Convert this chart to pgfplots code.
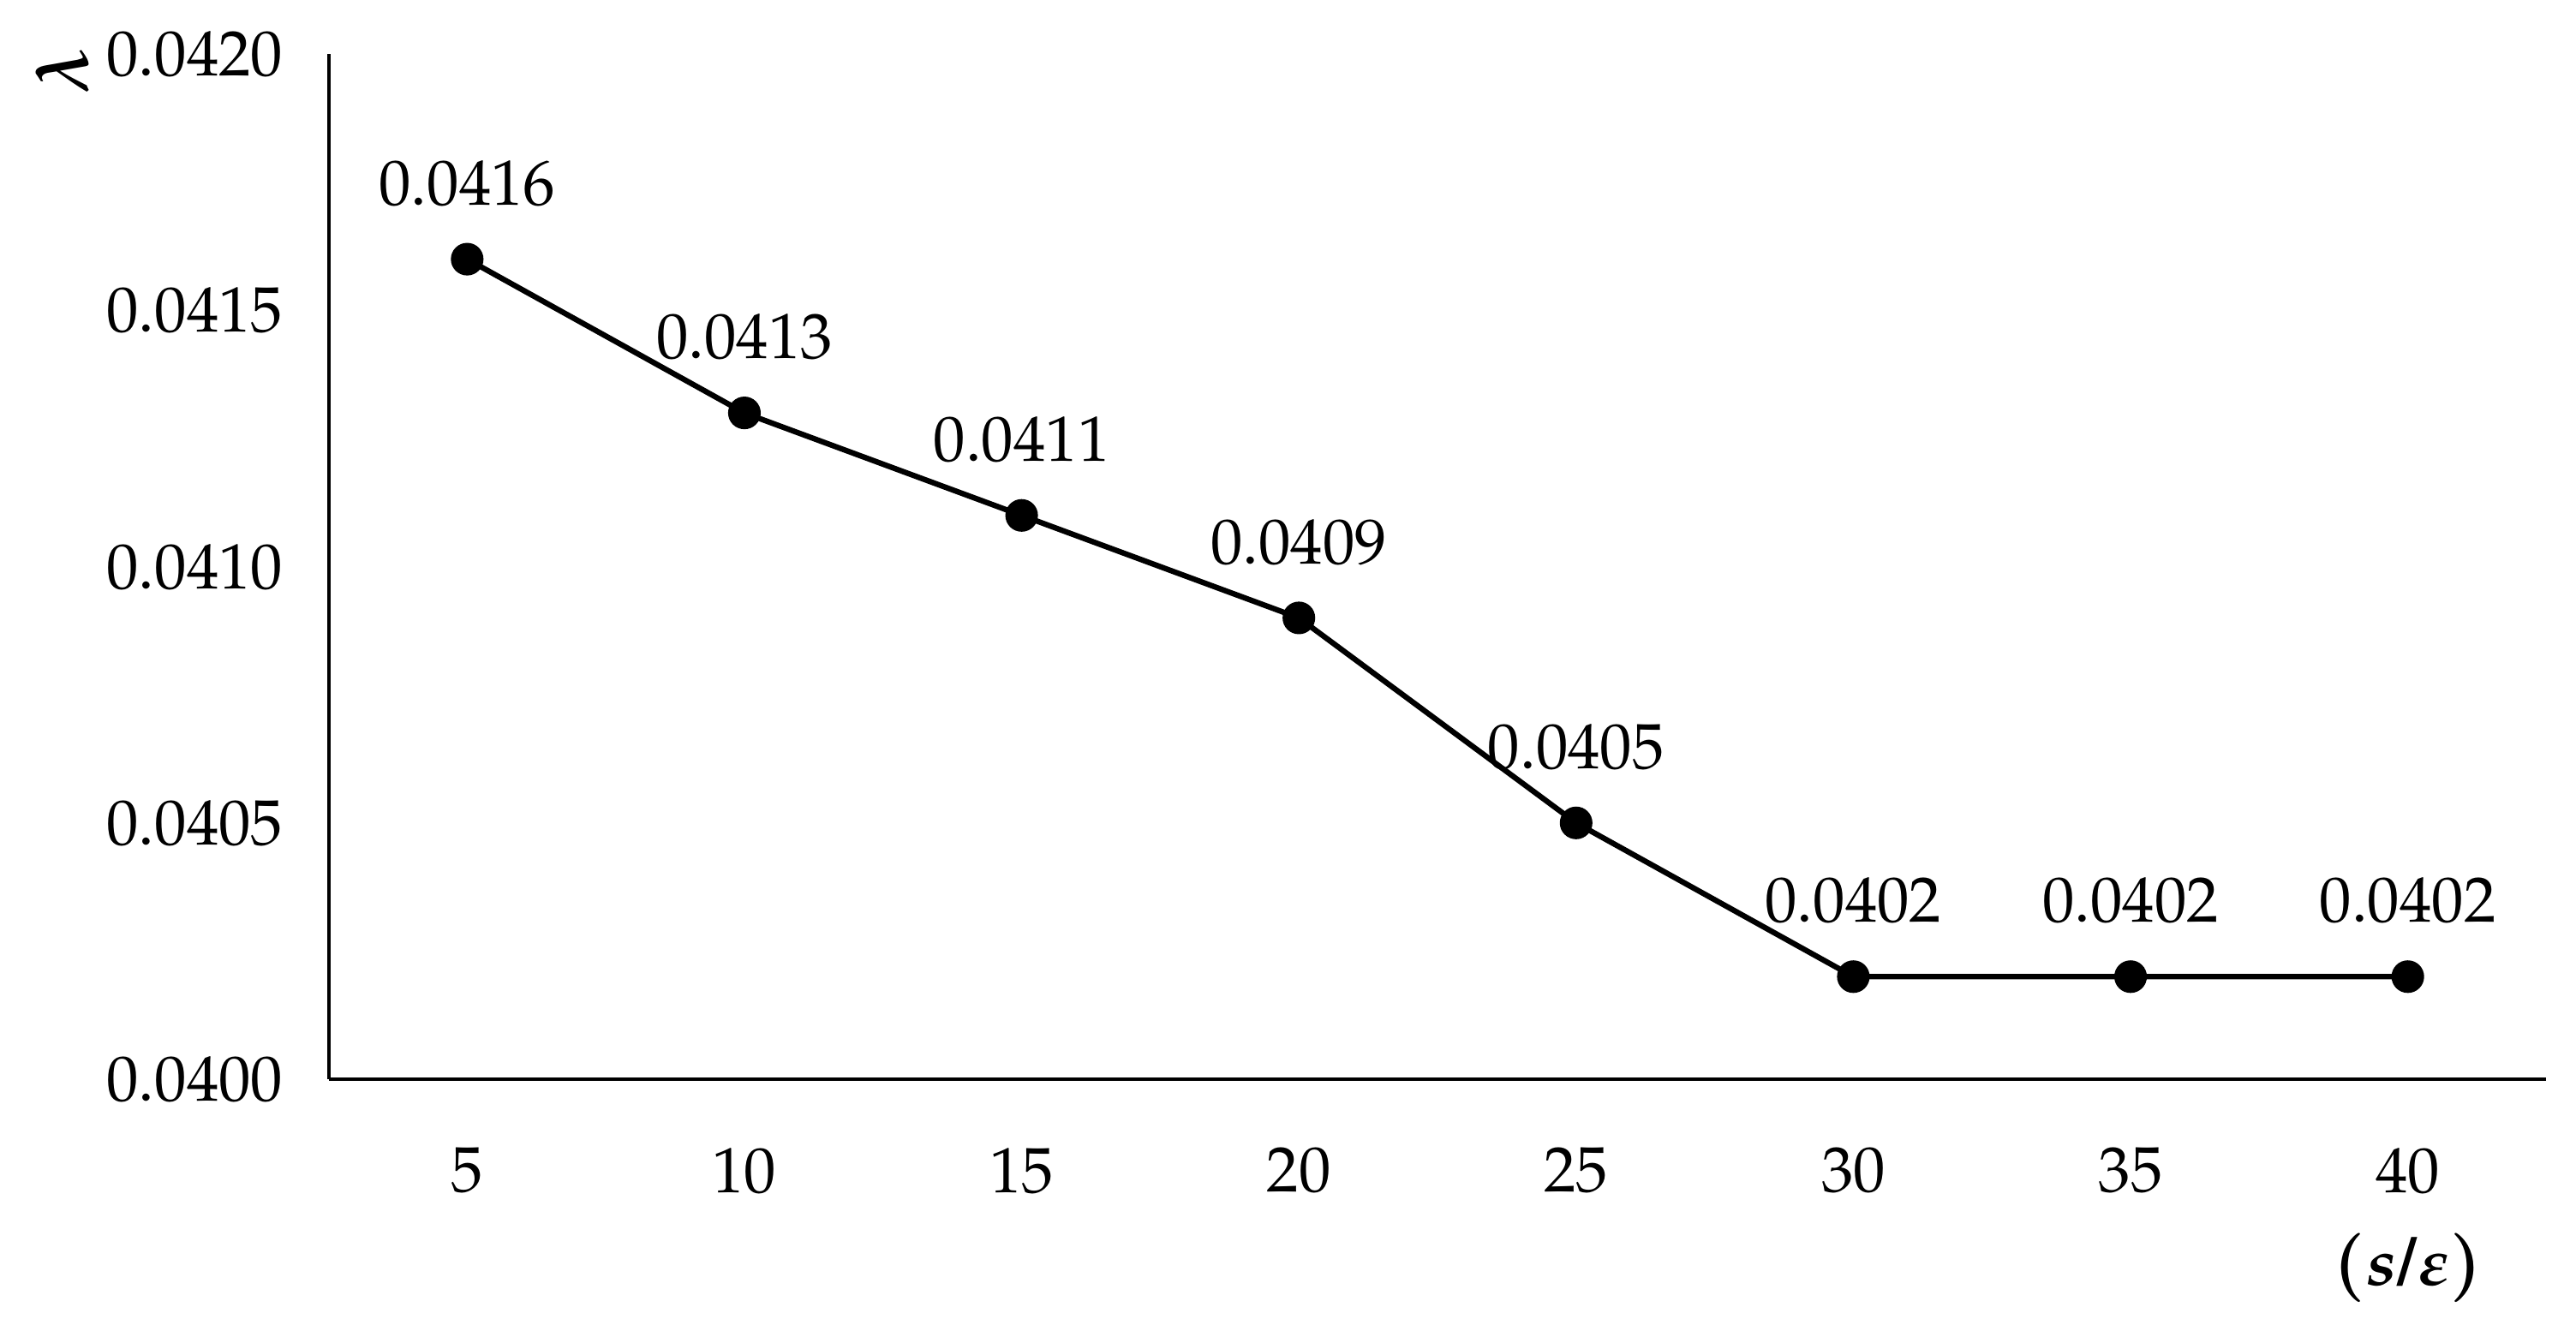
\documentclass[border=0pt]{standalone}
\usepackage[T1]{fontenc}
\usepackage{mathpazo}
\usepackage{amsmath}
\usepackage{pgfplots}
\pgfplotsset{compat=1.18}

\begin{document}
\fontsize{11.1}{13}\selectfont
\begin{tikzpicture}
  \path[use as bounding box] (-2.00,-1.46) rectangle (13.68,6.57);
  \begin{axis}[
      at={(0,0)}, anchor=south west,
      scale only axis, width=13.5cm, height=6.24cm,
      xmin=2.5, xmax=42.5, ymin=0.0400, ymax=0.0420,
      axis lines*=left,
      axis line style={line width=0.6pt},
      major tick length=0pt,
      xtick={5,10,...,40},
      ytick={0.0400,0.0405,0.0410,0.0415,0.0420},
      scaled y ticks=false,
      tick label style={font=\fontsize{11.1}{13}\selectfont},
      yticklabel style={/pgf/number format/.cd, fixed, fixed zerofill, precision=4, /tikz/.cd, xshift=-4pt},
      xticklabel style={yshift=-8pt},
      ylabel={$\boldsymbol{\lambda}$},
      % the label is turned by 90 degrees, so its shifts are turned too
      ylabel style={at={(axis description cs:0,1)}, anchor=center, rotate=0, yshift=1.62cm, xshift=-0.1cm, font=\fontsize{12.5}{14}\selectfont},
      xlabel={$\boldsymbol{(s/\varepsilon)}$},
      xlabel style={at={(axis cs:40,0.0400)}, anchor=center, yshift=-1.15cm, font=\fontsize{11.5}{14}\selectfont},
      nodes near coords={\pgfmathprintnumber[fixed, fixed zerofill, precision=4]{\pgfplotspointmeta}},
      nodes near coords style={anchor=base, yshift=0.33cm, font=\fontsize{11.1}{13}\selectfont},
      point meta=y,
      clip=false,
    ]
    \addplot[black, line width=0.95pt, mark=*, mark size=2.35pt] coordinates {
      (5,0.0416) (10,0.0413) (15,0.0411) (20,0.0409)
      (25,0.0405) (30,0.0402) (35,0.0402) (40,0.0402)
    };
  \end{axis}
\end{tikzpicture}
\end{document}
